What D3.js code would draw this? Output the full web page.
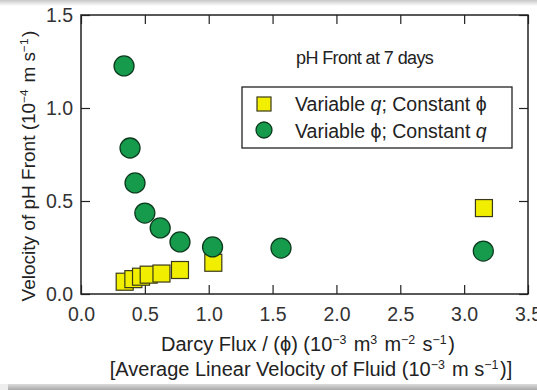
<!DOCTYPE html>
<html>
<head>
<meta charset="utf-8">
<script src="https://cdn.jsdelivr.net/npm/d3@7"></script>
<style>
  html, body { margin: 0; padding: 0; background: #ffffff; }
  svg { display: block; font-family: "Liberation Sans", Arial, Helvetica, sans-serif; }
</style>
</head>
<body>
<svg id="chart" width="537" height="390"></svg>
<script>
// Velocity of the pH front after 7 days vs. Darcy flux / porosity
const xTicks = [0.0, 0.5, 1.0, 1.5, 2.0, 2.5, 3.0, 3.5];
const yTicks = [0.0, 0.5, 1.0, 1.5];

// Series 1: variable q, constant phi (squares)
const varQx = [0.342, 0.41, 0.47, 0.53, 0.63, 0.775, 1.036, 3.155];
const varQy = [0.066, 0.080, 0.093, 0.104, 0.110, 0.129, 0.168, 0.462];

// Series 2: variable phi, constant q (circles)
const varPhiX = [0.337, 0.384, 0.423, 0.50, 0.62, 0.775, 1.03, 1.566, 3.15];
const varPhiY = [1.226, 0.785, 0.597, 0.435, 0.355, 0.28, 0.253, 0.247, 0.231];

const svg = d3.select("#chart");
const W = 537, H = 390;

// page panel with soft grey edges
const defs = svg.append("defs");
const g1 = defs.append("linearGradient").attr("id", "topfade").attr("x1", 0).attr("x2", 0).attr("y1", 0).attr("y2", 1);
g1.append("stop").attr("offset", 0).attr("stop-color", "#c8c8c8");
g1.append("stop").attr("offset", 1).attr("stop-color", "#ffffff");
const g2 = defs.append("linearGradient").attr("id", "botfade").attr("x1", 0).attr("x2", 0).attr("y1", 0).attr("y2", 1);
g2.append("stop").attr("offset", 0).attr("stop-color", "#dcdcdc");
g2.append("stop").attr("offset", 1).attr("stop-color", "#a8a8a8");
svg.append("rect").attr("width", W).attr("height", H).attr("fill", "#ffffff");
svg.append("rect").attr("x", 0).attr("y", 0).attr("width", W).attr("height", 6).attr("fill", "url(#topfade)");
svg.append("rect").attr("x", 8).attr("y", 384).attr("width", W - 8).attr("height", 6).attr("fill", "url(#botfade)");
svg.append("rect").attr("x", 0).attr("y", 384).attr("width", 8).attr("height", 6).attr("fill", "#eeeeee");

const plot = { left: 81, right: 528, top: 15, bottom: 294 };

const x = d3.scaleLinear().domain([0, 3.5]).range([plot.left, plot.right]);
const y = d3.scaleLinear().domain([0, 1.5]).range([plot.bottom, plot.top]);

const fmt = d3.format(".1f");
const tickLen = 9;

// axes: ticks pointing inward, mirrored on all four sides
const axB = svg.append("g").attr("transform", `translate(0,${plot.bottom})`)
  .call(d3.axisBottom(x).tickValues(xTicks).tickFormat(fmt).tickSizeInner(-tickLen).tickSizeOuter(0).tickPadding(13));
const axT = svg.append("g").attr("transform", `translate(0,${plot.top})`)
  .call(d3.axisTop(x).tickValues(xTicks).tickFormat("").tickSizeInner(-tickLen).tickSizeOuter(0));
const axL = svg.append("g").attr("transform", `translate(${plot.left},0)`)
  .call(d3.axisLeft(y).tickValues(yTicks).tickFormat(fmt).tickSizeInner(-tickLen).tickSizeOuter(0).tickPadding(8));
const axR = svg.append("g").attr("transform", `translate(${plot.right},0)`)
  .call(d3.axisRight(y).tickValues(yTicks).tickFormat("").tickSizeInner(-tickLen).tickSizeOuter(0));

[axB, axT, axL, axR].forEach(a => {
  a.select(".domain").remove();
  a.selectAll(".tick line").attr("stroke", "#222").attr("stroke-width", 1.2);
  a.selectAll(".tick text").attr("fill", "#333").style("font-size", "19.5px");
});

// frame
svg.append("rect")
  .attr("x", plot.left).attr("y", plot.top)
  .attr("width", plot.right - plot.left).attr("height", plot.bottom - plot.top)
  .attr("fill", "none").attr("stroke", "#222").attr("stroke-width", 1.5);

// squares: variable q, constant phi
const sq = 17;
svg.append("g").selectAll("rect")
  .data(varQx.map((v, i) => [v, varQy[i]]))
  .join("rect")
  .attr("x", d => x(d[0]) - sq / 2)
  .attr("y", d => y(d[1]) - sq / 2)
  .attr("width", sq).attr("height", sq)
  .attr("fill", "#f2ee00").attr("stroke", "#3a3a1a").attr("stroke-width", 1.2);

// circles: variable phi, constant q
svg.append("g").selectAll("circle")
  .data(varPhiX.map((v, i) => [v, varPhiY[i]]))
  .join("circle")
  .attr("cx", d => x(d[0]))
  .attr("cy", d => y(d[1]))
  .attr("r", 10)
  .attr("fill", "#169a4c").attr("stroke", "#0c3a1e").attr("stroke-width", 1.3);

// annotation
svg.append("text")
  .attr("x", 296).attr("y", 64)
  .attr("fill", "#222").style("font-size", "18px").style("letter-spacing", "-0.6px")
  .text("pH Front at 7 days");

// legend
const lg = svg.append("g");
lg.append("rect").attr("x", 242).attr("y", 87).attr("width", 270).attr("height", 61)
  .attr("fill", "#fff").attr("stroke", "#222").attr("stroke-width", 1.3);
lg.append("rect").attr("x", 257).attr("y", 97).attr("width", 14).attr("height", 14)
  .attr("fill", "#f2ee00").attr("stroke", "#3a3a1a").attr("stroke-width", 1.2);
lg.append("circle").attr("cx", 264).attr("cy", 130).attr("r", 8)
  .attr("fill", "#169a4c").attr("stroke", "#0c3a1e").attr("stroke-width", 1.3);

function legendText(yPos, parts) {
  const t = lg.append("text").attr("x", 295).attr("y", yPos).attr("fill", "#222").style("font-size", "19.5px");
  parts.forEach(p => t.append("tspan").style("font-style", p[1] ? "italic" : "normal").text(p[0]));
}
legendText(111, [["Variable ", false], ["q", true], ["; Constant \u03d5", false]]);
legendText(138, [["Variable \u03d5; Constant ", false], ["q", true]]);

// axis titles with superscripts
function supText(sel, parts, size) {
  parts.forEach(p => {
    if (p[1]) {
      sel.append("tspan").attr("dy", -7).style("font-size", (size * 0.62) + "px").text(p[0]);
      sel.append("tspan").attr("dy", 7).style("font-size", size + "px").text("\u200a");
    } else {
      sel.append("tspan").style("font-size", size + "px").text(p[0]);
    }
  });
}
const xt1 = svg.append("text").attr("x", 308).attr("y", 351).attr("text-anchor", "middle").attr("fill", "#222");
supText(xt1, [["Darcy Flux / (\u03d5)  (10", false], ["\u22123", true], [" m", false], ["3", true], [" m", false], ["\u22122", true], [" s", false], ["\u22121", true], [")", false]], 20);
const xt2 = svg.append("text").attr("x", 311).attr("y", 376).attr("text-anchor", "middle").attr("fill", "#222");
supText(xt2, [["[Average Linear Velocity of Fluid (10", false], ["\u22123", true], [" m s", false], ["\u22121", true], [")]", false]], 20);

const yt = svg.append("text")
  .attr("transform", `translate(35,166) rotate(-90)`)
  .attr("text-anchor", "middle").attr("fill", "#222");
supText(yt, [["Velocity of pH Front (10", false], ["\u22124", true], [" m s", false], ["\u22121", true], [")", false]], 19);
</script>
</body>
</html>
